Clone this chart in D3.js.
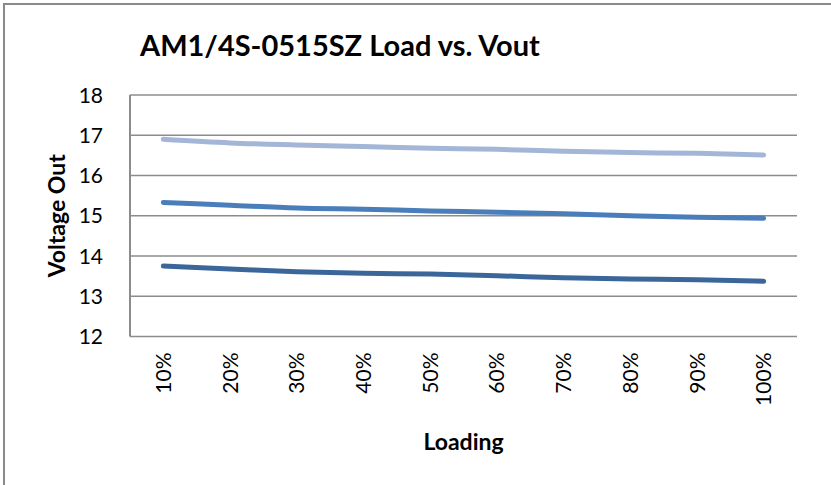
<!DOCTYPE html>
<html>
<head>
<meta charset="utf-8">
<script src="https://cdn.jsdelivr.net/npm/d3@7"></script>
<style>
  body { margin: 0; background: #fff; }
  svg { display: block; font-family: Lato, "Open Sans", sans-serif; }
</style>
</head>
<body>
<svg id="chart"></svg>
<script>
// loading steps on the x axis
const loads = ['10%', '20%', '30%', '40%', '50%', '60%', '70%', '80%', '90%', '100%'];
// three output curves
const vHigh = [16.90, 16.81, 16.76, 16.72, 16.68, 16.65, 16.60, 16.57, 16.55, 16.51];
const vMid  = [15.33, 15.26, 15.19, 15.16, 15.12, 15.09, 15.05, 15.00, 14.96, 14.94];
const vLow  = [13.75, 13.68, 13.61, 13.57, 13.55, 13.51, 13.46, 13.43, 13.41, 13.37];
const yTicks = [12, 13, 14, 15, 16, 17, 18];

const series = [
  { values: vHigh, color: '#a3b6d7' },
  { values: vMid, color: '#4a7ebb' },
  { values: vLow, color: '#3b6699' }
];

const W = 831, H = 485;
const margin = { top: 95, right: 34, bottom: 148.5, left: 130 };
const width = W - margin.left - margin.right;
const height = H - margin.top - margin.bottom;

const svg = d3.select('#chart').attr('width', W).attr('height', H);

// outer frame (only left and top edges visible)
svg.append('path')
  .attr('d', `M4,${H} L4,4 L${W},4`)
  .attr('fill', 'none')
  .attr('stroke', '#8a8a8a')
  .attr('stroke-width', 2);

svg.append('text')
  .attr('x', 140)
  .attr('y', 56)
  .attr('font-size', 29)
  .attr('font-weight', 'bold')
  .attr('fill', '#000')
  .text('AM1/4S-0515SZ Load vs. Vout');

const g = svg.append('g').attr('transform', `translate(${margin.left},${margin.top})`);

const x = d3.scaleBand().domain(loads).range([0, width]);
const y = d3.scaleLinear().domain([12, 18]).range([height, 0]);

// gridlines
g.selectAll('.grid')
  .data(yTicks)
  .join('line')
  .attr('x1', 0)
  .attr('x2', width)
  .attr('y1', d => y(d))
  .attr('y2', d => y(d))
  .attr('stroke', '#8c8c8c')
  .attr('stroke-width', 1.5);

g.append('line')
  .attr('x1', 0).attr('x2', 0)
  .attr('y1', 0).attr('y2', height)
  .attr('stroke', '#8c8c8c')
  .attr('stroke-width', 2);

// y tick labels
g.selectAll('.ylab')
  .data(yTicks)
  .join('text')
  .attr('x', -27)
  .attr('y', d => y(d))
  .attr('dy', '0.36em')
  .attr('text-anchor', 'end')
  .attr('font-size', 21)
  .text(d => d);

// x tick labels, rotated
g.selectAll('.xlab')
  .data(loads)
  .join('text')
  .attr('transform', d => `translate(${x(d) + x.bandwidth() / 2},${height + 16}) rotate(-90)`)
  .attr('dy', '0.36em')
  .attr('text-anchor', 'end')
  .attr('font-size', 21)
  .text(d => d);

svg.append('text')
  .attr('transform', `translate(65,${margin.top + height / 2}) rotate(-90)`)
  .attr('text-anchor', 'middle')
  .attr('font-size', 23)
  .attr('font-weight', 'bold')
  .text('Voltage Out');

svg.append('text')
  .attr('x', margin.left + width / 2)
  .attr('y', 450)
  .attr('text-anchor', 'middle')
  .attr('font-size', 23)
  .attr('font-weight', 'bold')
  .text('Loading');

const line = d3.line()
  .x((d, i) => x(loads[i]) + x.bandwidth() / 2)
  .y(d => y(d))
  .curve(d3.curveMonotoneX);

g.selectAll('.series')
  .data(series)
  .join('path')
  .attr('d', d => line(d.values))
  .attr('fill', 'none')
  .attr('stroke', d => d.color)
  .attr('stroke-width', 5)
  .attr('stroke-linecap', 'round');
</script>
</body>
</html>
